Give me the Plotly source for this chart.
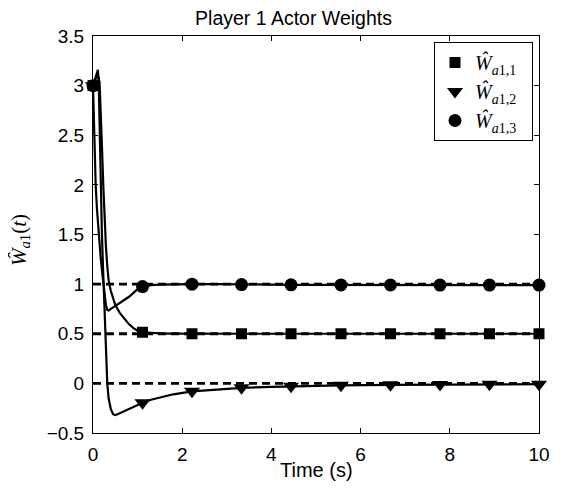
import plotly.graph_objects as go

# ---- data ----
t_curve = [0, 0.03, 0.06, 0.09, 0.11, 0.13, 0.15, 0.17, 0.2, 0.23, 0.26, 0.29, 0.32,
           0.35, 0.4, 0.45, 0.5, 0.6, 0.7, 0.8, 0.9, 1.0, 1.11, 1.3, 1.5, 1.8, 2.22,
           2.8, 3.33, 4.0, 4.44, 5.0, 5.56, 6.67, 7.78, 8.89, 10]
w1_curve = [3.0, 3.04, 3.08, 3.1, 3.1, 3.08, 3.0, 2.8, 2.4, 2.0, 1.65, 1.38, 1.18,
            1.04, 0.93, 0.85, 0.79, 0.71, 0.65, 0.6, 0.56, 0.53, 0.515, 0.508, 0.504, 0.502, 0.5,
            0.5, 0.5, 0.5, 0.5, 0.5, 0.5, 0.5, 0.5, 0.5, 0.5]
w2_curve = [3.0, 3.05, 3.1, 3.15, 3.16, 3.0, 2.5, 2.0, 1.5, 1.1, 0.7, 0.3, 0.0,
            -0.15, -0.26, -0.31, -0.32, -0.3, -0.28, -0.26, -0.24, -0.215, -0.195, -0.165, -0.14, -0.11, -0.08,
            -0.058, -0.045, -0.035, -0.03, -0.025, -0.02, -0.015, -0.012, -0.01, -0.008]
w3_curve = [3.0, 2.45, 2.0, 1.75, 1.6, 1.48, 1.38, 1.28, 1.14, 1.0, 0.88, 0.79, 0.74,
            0.735, 0.75, 0.765, 0.78, 0.81, 0.84, 0.87, 0.91, 0.95, 0.975, 0.99, 0.995, 0.998, 1.0,
            1.0, 0.995, 0.995, 0.993, 0.993, 0.992, 0.991, 0.99, 0.99, 0.99]

t_marker = [0, 1.11, 2.22, 3.33, 4.44, 5.56, 6.67, 7.78, 8.89, 10]
w1_marker = [3.0, 0.515, 0.5, 0.5, 0.5, 0.5, 0.5, 0.5, 0.5, 0.5]
w2_marker = [3.0, -0.195, -0.08, -0.045, -0.03, -0.02, -0.015, -0.012, -0.01, -0.008]
w3_marker = [3.0, 0.975, 1.0, 0.995, 0.993, 0.992, 0.991, 0.99, 0.99, 0.99]

ideal_values = [0.5, 0.0, 1.0]
t_range = [0, 10]

x_ticks = [0, 2, 4, 6, 8, 10]
x_ticktext = ["0", "2", "4", "6", "8", "10"]
y_ticks = [-0.5, 0, 0.5, 1, 1.5, 2, 2.5, 3, 3.5]
y_ticktext = ["\u22120.5", "0", "0.5", "1", "1.5", "2", "2.5", "3", "3.5"]

legend_names = ["<i>Ŵ</i><sub><i>a</i>1,1</sub>&nbsp;&nbsp;",
                "<i>Ŵ</i><sub><i>a</i>1,2</sub>&nbsp;&nbsp;",
                "<i>Ŵ</i><sub><i>a</i>1,3</sub>&nbsp;&nbsp;"]

# page body has an 8px default margin; compensate so the plot area lands in place
OFF = 8
PLOT_L, PLOT_R, PLOT_T, PLOT_B = 93, 539, 36, 433
W, H = 565, 491

# ---- figure ----
fig = go.Figure()
for w in (w1_curve, w2_curve, w3_curve):
    fig.add_trace(go.Scatter(x=t_curve, y=w, mode="lines",
                             line=dict(color="black", width=2.2),
                             showlegend=False, hoverinfo="skip"))
for v in ideal_values:
    fig.add_trace(go.Scatter(x=t_range, y=[v, v], mode="lines",
                             line=dict(color="black", width=2.8, dash="8px,5px"),
                             showlegend=False, hoverinfo="skip"))

symbols = ["square", "triangle-down", "circle"]
sizes = [11, 14, 13]
for wm, sym, sz, nm in zip((w1_marker, w2_marker, w3_marker), symbols, sizes, legend_names):
    fig.add_trace(go.Scatter(x=t_marker, y=wm, mode="markers", name=nm,
                             marker=dict(symbol=sym, size=sz, color="black",
                                         line=dict(width=0)),
                             cliponaxis=False))

sans = "Liberation Sans, Arial, sans-serif"
serif = "Liberation Serif, Times New Roman, serif"

pw = PLOT_R - PLOT_L
ph = PLOT_B - PLOT_T

fig.update_layout(
    width=W, height=H,
    margin=dict(l=PLOT_L - OFF, r=W + OFF - PLOT_R, t=PLOT_T - OFF, b=H + OFF - PLOT_B),
    paper_bgcolor="white", plot_bgcolor="white",
    font=dict(family=sans, size=19, color="black"),
    title=dict(text="Player 1 Actor Weights", x=(293.5 - OFF) / W, xref="container",
               xanchor="center", y=1 - (18 - OFF) / H, yref="container", yanchor="middle",
               font=dict(family=sans, size=19.5, color="black")),
    legend=dict(x=(533 - PLOT_L) / pw, y=(PLOT_B - 42) / ph, xanchor="right", yanchor="top",
                bgcolor="white", bordercolor="black", borderwidth=1,
                font=dict(family=serif, size=20, color="black"),
                itemsizing="trace", tracegroupgap=0),
    showlegend=True,
)
fig.update_xaxes(range=[0, 10], tickvals=x_ticks, ticktext=x_ticktext,
                 showgrid=False, zeroline=False, showline=True, linecolor="black",
                 linewidth=1, mirror="ticks", ticks="inside", ticklen=5,
                 tickcolor="black", tickfont=dict(family=sans, size=19),
                 ticklabelstandoff=4)
fig.update_yaxes(range=[-0.5, 3.5], tickvals=y_ticks, ticktext=y_ticktext,
                 showgrid=False, zeroline=False, showline=True, linecolor="black",
                 linewidth=1, mirror="ticks", ticks="inside", ticklen=5,
                 tickcolor="black", tickfont=dict(family=sans, size=19),
                 ticklabelstandoff=4)

fig.add_annotation(text="Time (s)", xref="paper", yref="paper",
                   x=(316.5 - PLOT_L) / pw, y=(PLOT_B - 470) / ph,
                   xanchor="center", yanchor="middle", showarrow=False,
                   font=dict(family=sans, size=20, color="black"))
fig.add_annotation(text="<i>Ŵ</i><sub><i>a</i>1</sub>(<i>t</i>)", xref="paper", yref="paper",
                   x=(20 - PLOT_L) / pw, y=(PLOT_B - 240) / ph, textangle=-90,
                   xanchor="center", yanchor="middle", showarrow=False,
                   font=dict(family=serif, size=21, color="black"))

fig.write_html("out.html")
